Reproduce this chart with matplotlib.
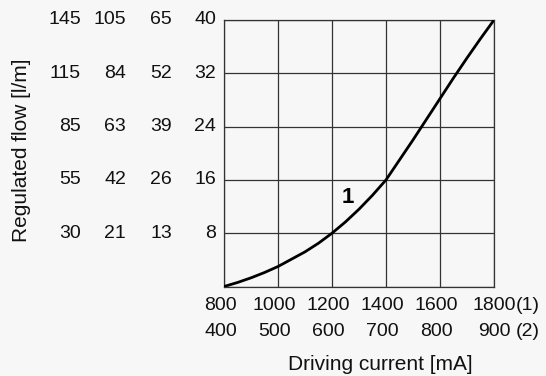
import numpy as np
import matplotlib
matplotlib.use('Agg')
import matplotlib.pyplot as plt
import matplotlib.transforms as mtransforms

plt.rcParams['font.family'] = ['Liberation Sans', 'DejaVu Sans']

# driving current scale (1) and its companion scale (2)
current_1 = [800, 1000, 1200, 1400, 1600, 1800]
current_2 = [400, 500, 600, 700, 800, 900]

# flow scales, one column per valve size, rightmost drives the grid
flow_rows = [8, 16, 24, 32, 40]
flow_cols = [
    ['30', '55', '85', '115', '145'],
    ['21', '42', '63', '84', '105'],
    ['13', '26', '39', '52', '65'],
    ['8', '16', '24', '32', '40'],
]

# characteristic curve 1
curve_x = [800, 850, 900, 950, 1000, 1050, 1100, 1150, 1200, 1250, 1300,
           1350, 1400, 1450, 1500, 1550, 1600, 1650, 1700, 1750, 1800]
curve_y = [0.0, 0.6, 1.3, 2.1, 3.0, 4.1, 5.2, 6.5, 8.0, 9.7, 11.6,
           13.7, 16.0, 19.0, 22.0, 25.1, 28.2, 31.3, 34.3, 37.2, 40.0]

bg = '#f7f7f7'
ink = '#111111'
fig = plt.figure(figsize=(5.46, 3.76), dpi=100, facecolor=bg)
ax = fig.add_axes([224 / 546, 1 - 286.5 / 376, 270 / 546, 266.5 / 376])
ax.set_facecolor(bg)

ax.set_xlim(800, 1800)
ax.set_ylim(0, 40)
ax.set_xticks(current_1)
ax.set_yticks([0] + flow_rows)
ax.grid(True, color='#333333', lw=0.9)
ax.tick_params(length=0, labelbottom=False, labelleft=False)
for s in ax.spines.values():
    s.set_color('#333333')
    s.set_linewidth(0.9)

ax.plot(curve_x, curve_y, color='black', lw=2.0, solid_capstyle='round', zorder=3)
ax.text(1259, 13.3, '1', fontsize=16, fontweight='bold', ha='center', va='center')

fs = 14
# y scales: four columns of labels, right aligned
ytrans = mtransforms.blended_transform_factory(fig.transFigure, ax.transData)
col_right = [81, 126, 172, 216]
for px, labels in zip(col_right, flow_cols):
    for yv, lab in zip(flow_rows, labels):
        ax.text(px / 546, yv, lab, transform=ytrans, ha='right', va='center',
                fontsize=fs, color=ink)

# x scales: two rows under the grid, nudged a few pixels left
xtrans = mtransforms.blended_transform_factory(ax.transData, fig.transFigure)
for i, (a, b) in enumerate(zip(current_1, current_2)):
    dx = 0 if i == len(current_1) - 1 else -3.5
    shift = mtransforms.ScaledTranslation(dx / 100, 0, fig.dpi_scale_trans)
    ax.text(a, 1 - 306 / 376, str(a), transform=xtrans + shift, ha='center',
            va='center', fontsize=fs, color=ink)
    ax.text(a, 1 - 332 / 376, str(b), transform=xtrans + shift, ha='center',
            va='center', fontsize=fs, color=ink)
ax.text(516 / 546, 1 - 306 / 376, '(1)', transform=fig.transFigure, ha='left',
        va='center', fontsize=fs, color=ink)
ax.text(516 / 546, 1 - 332 / 376, '(2)', transform=fig.transFigure, ha='left',
        va='center', fontsize=fs, color=ink)

fig.text(380 / 546, 1 - 365 / 376, 'Driving current [mA]', ha='center',
         va='center', fontsize=15, color=ink)
fig.text(22 / 546, 1 - 150 / 376, 'Regulated flow [l/m]', ha='center',
         va='center', rotation=90, fontsize=15, color=ink)

fig.savefig('out.png', dpi=100, facecolor=bg)
